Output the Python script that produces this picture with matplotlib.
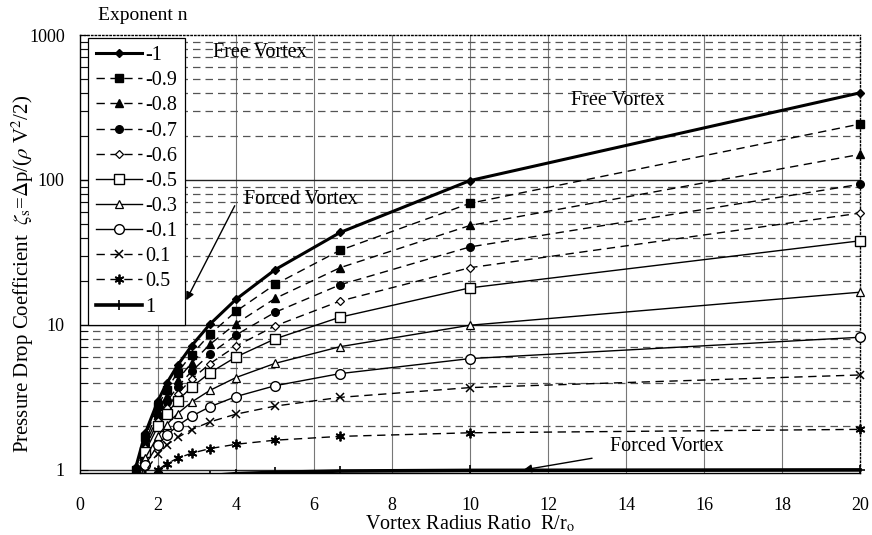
import matplotlib
matplotlib.use("Agg")
import matplotlib.pyplot as plt
from matplotlib.ticker import FixedLocator, NullFormatter, FixedFormatter
from matplotlib.patches import Rectangle

plt.rcParams['font.family'] = ['Liberation Serif', 'DejaVu Serif']
plt.rcParams['mathtext.fontset'] = 'stix'

# Vortex radius ratio R/r0
ratio = [1.43, 1.67, 2.0, 2.22, 2.5, 2.86, 3.33, 4.0, 5.0, 6.67, 10.0, 20.0]

exponents = ['-1', '-0.9', '-0.8', '-0.7', '-0.6', '-0.5', '-0.3', '-0.1', '0.1', '0.5', '1']

zeta_m10 = [1.04, 1.78, 3.0, 3.94, 5.25, 7.16, 10.1, 15.0, 24.0, 43.4, 99.0, 399.0]
zeta_m09 = [1.0, 1.68, 2.76, 3.57, 4.67, 6.24, 8.59, 12.4, 19.0, 32.7, 69.0, 243.0]
zeta_m08 = [0.96, 1.58, 2.54, 3.24, 4.17, 5.46, 7.33, 10.2, 15.2, 24.8, 48.5, 150.0]
zeta_m07 = [0.93, 1.49, 2.34, 2.94, 3.72, 4.78, 6.28, 8.52, 12.2, 18.9, 34.5, 93.3]
zeta_m06 = [0.89, 1.41, 2.16, 2.68, 3.34, 4.21, 5.40, 7.13, 9.83, 14.6, 24.8, 59.0]
zeta_m05 = [0.86, 1.33, 2.0, 2.44, 3.0, 3.71, 4.67, 6.0, 8.0, 11.3, 18.0, 38.0]
zeta_m03 = [0.80, 1.20, 1.72, 2.05, 2.44, 2.93, 3.53, 4.33, 5.42, 7.07, 9.94, 16.8]
zeta_m01 = [0.74, 1.08, 1.49, 1.73, 2.01, 2.34, 2.72, 3.20, 3.80, 4.61, 5.85, 8.21]
zeta_p01 = [0.69, 0.97, 1.29, 1.48, 1.67, 1.89, 2.14, 2.42, 2.75, 3.16, 3.69, 4.51]
zeta_p05 = [0.6, 0.8, 1.0, 1.1, 1.2, 1.3, 1.4, 1.5, 1.6, 1.7, 1.8, 1.9]
zeta_p10 = [0.51, 0.64, 0.75, 0.80, 0.84, 0.88, 0.91, 0.94, 0.96, 0.98, 0.99, 0.998]

series = [zeta_m10, zeta_m09, zeta_m08, zeta_m07, zeta_m06, zeta_m05,
          zeta_m03, zeta_m01, zeta_p01, zeta_p05, zeta_p10]

dash = (0, (6, 4))
styles = [
    dict(ls='-', lw=2.2, marker='D', ms=4, mfc='black', mec='black'),
    dict(ls=dash, lw=1.0, marker='s', ms=5.5, mfc='black', mec='black'),
    dict(ls=dash, lw=1.0, marker='^', ms=5.5, mfc='black', mec='black'),
    dict(ls=dash, lw=1.0, marker='o', ms=5.5, mfc='black', mec='black'),
    dict(ls=dash, lw=1.0, marker='D', ms=4.5, mfc='white', mec='black', mew=0.9),
    dict(ls='-', lw=1.0, marker='s', ms=7, mfc='white', mec='black', mew=1.0),
    dict(ls='-', lw=1.0, marker='^', ms=6, mfc='white', mec='black', mew=0.9),
    dict(ls='-', lw=1.0, marker='o', ms=7, mfc='white', mec='black', mew=1.0),
    dict(ls=dash, lw=1.0, marker='x', ms=6, mfc='black', mec='black', mew=1.1),
    dict(ls=dash, lw=1.0, marker=(6, 2, 0), ms=7, mfc='black', mec='black', mew=1.3),
    dict(ls='-', lw=2.6, marker='+', ms=7, mfc='black', mec='black', mew=1.2),
]

fig = plt.figure(figsize=(8.72, 5.35), dpi=100)
ax = fig.add_axes([80/872, 1-473/535, 780/872, 438/535])
ax.set_yscale('log')
ax.set_xlim(0, 20)
ax.set_ylim(0.95, 1000)

# grid
for xv in range(2, 20, 2):
    ax.axvline(xv, color='#777777', lw=0.8, zorder=0.5)
for dec in [1, 10, 100]:
    for m in range(2, 10):
        ax.axhline(dec*m, color='#555555', lw=0.9, ls=(0, (6, 4)), zorder=0.5)
for yv in [1, 10, 100]:
    ax.axhline(yv, color='#222222', lw=1.0, zorder=0.6)

clip = Rectangle((0, 0), 1.015, 1, transform=ax.transAxes, facecolor='none', edgecolor='none')
ax.add_patch(clip)
for vals, lab, st in zip(series, exponents, styles):
    ln, = ax.plot(ratio, vals, color='black', label=lab, zorder=3, **st)
    ln.set_clip_path(clip)

ax.yaxis.set_major_locator(FixedLocator([1, 10, 100, 1000]))
ax.yaxis.set_major_formatter(FixedFormatter(['1', '10', '100', '1000']))
ax.yaxis.set_minor_locator(FixedLocator([d*m for d in [1, 10, 100] for m in range(2, 10)]))
ax.yaxis.set_minor_formatter(NullFormatter())
ax.set_xticks(range(0, 21, 2))
ax.tick_params(axis='x', length=0, labelsize=13, pad=17)
ax.tick_params(axis='y', which='both', direction='in', length=6, labelsize=13, pad=11)

for s in ['top', 'right']:
    ax.spines[s].set_linestyle(':')
    ax.spines[s].set_linewidth(1.0)
ax.spines['left'].set_linewidth(1.0)
ax.spines['bottom'].set_linewidth(1.0)

ax.set_xlabel(r'Vortex Radius Ratio  R/r$_{\rm o}$', fontsize=14.5, labelpad=0)
ax.set_ylabel(r'Pressure Drop Coefficient  $\zeta_{\rm s}$=$\Delta$p/($\rho$ V$^2$/2)', fontsize=15)
ax.yaxis.set_label_coords((36-80)/780, (473-274)/438)

leg = ax.legend(loc='upper left', bbox_to_anchor=(0.0103, 0.993), borderaxespad=0,
                fontsize=14.5, frameon=True, fancybox=False, framealpha=1,
                edgecolor='black', handlelength=2.3, handletextpad=0.12,
                labelspacing=0.3, borderpad=0.4)
leg.get_frame().set_linewidth(0.9)
leg.set_zorder(10)

fig.text(143/872, 1-15/535, 'Exponent n', ha='center', va='center', fontsize=14)

ax.text(3.4, 760, 'Free Vortex', fontsize=14.5, va='center', ha='left', zorder=5)
ax.text(12.6, 355, 'Free Vortex', fontsize=14.5, va='center', ha='left', zorder=5)
ax.text(4.2, 73, 'Forced Vortex', fontsize=14.5, va='center', ha='left', zorder=5)
ax.text(13.6, 1.44, 'Forced Vortex', fontsize=14.5, va='center', ha='left', zorder=5)
ax.annotate('', xy=(2.69, 14.2), xytext=(4.0, 69),
            arrowprops=dict(arrowstyle='-|>', color='black', lw=1.0, mutation_scale=12), zorder=12)
ax.annotate('', xy=(11.3, 0.99), xytext=(13.2, 1.21),
            arrowprops=dict(arrowstyle='-|>', color='black', lw=1.0, mutation_scale=12), zorder=12)

fig.savefig('out.png', dpi=100)
